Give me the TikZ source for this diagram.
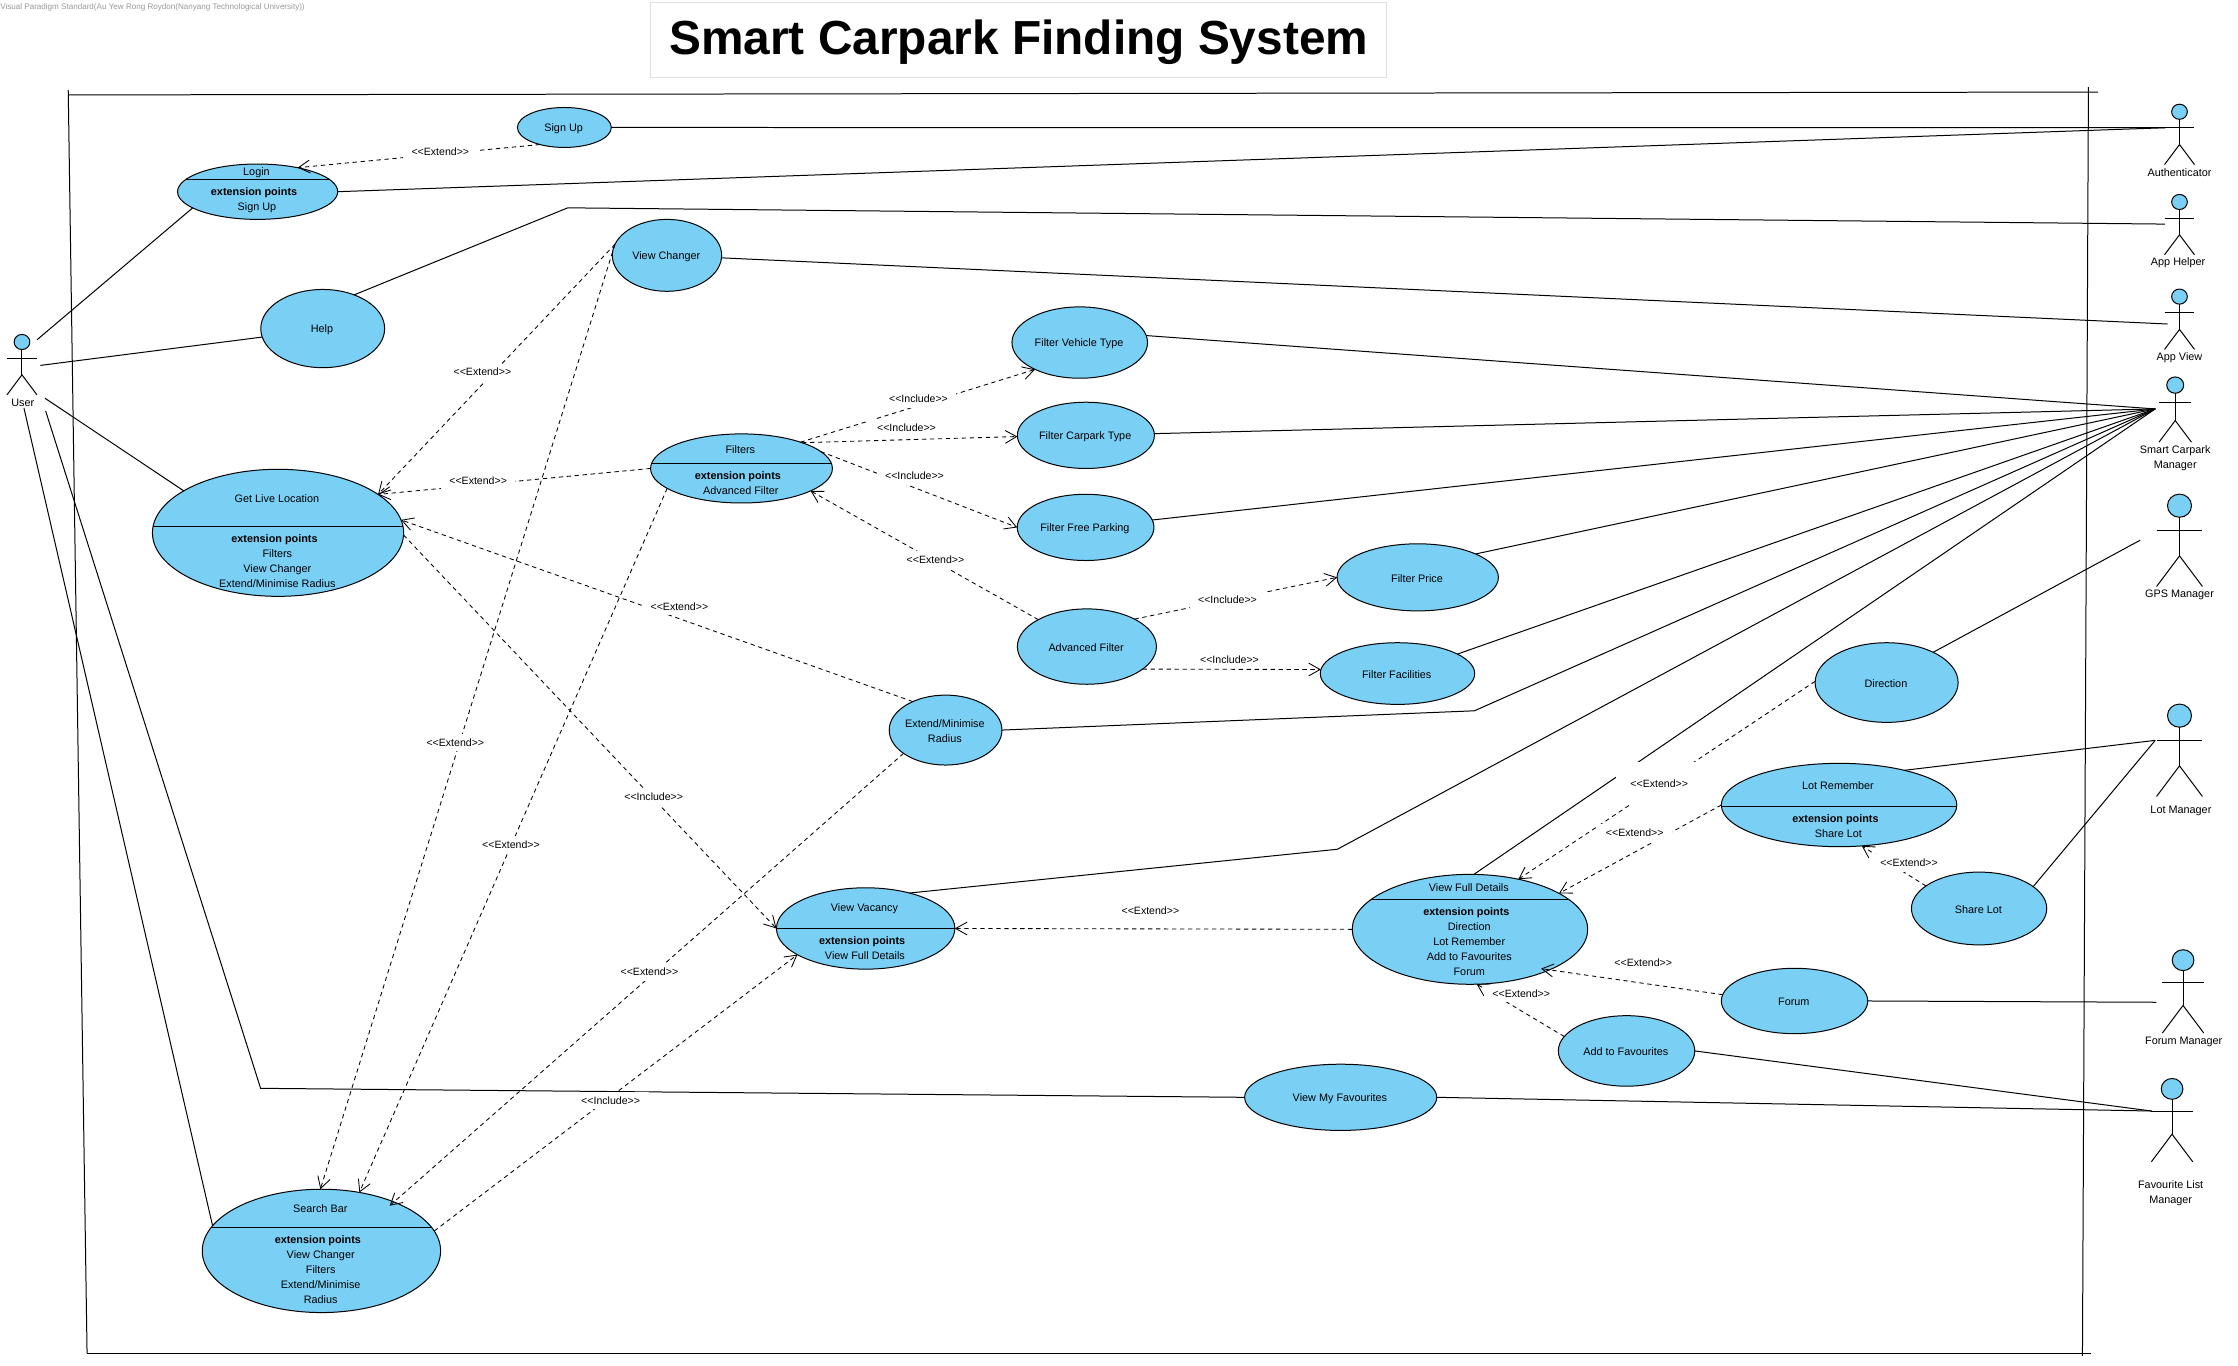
\documentclass[tikz,border=0pt]{standalone}
\usepackage{fontspec}
\setmainfont{Liberation Sans}
\usetikzlibrary{arrows.meta, shapes.geometric}

\tikzset{
    usecase/.style={draw, ellipse, fill=ucblue, line width=0.7pt, inner sep=0pt, outer sep=0pt},
    uctext/.style={inner sep=0pt, align=center, font=\fontsize{7.6}{10.45}\selectfont},
    actorhead/.style={draw, ellipse, fill=ucblue, line width=0.7pt, inner sep=0pt, outer sep=0pt,
        minimum width=11pt, minimum height=10.6pt, transform shape},
    actorlabel/.style={inner sep=0pt, align=center, font=\fontsize{7.6}{10.45}\selectfont},
    assoc/.style={line width=0.7pt},
    depend/.style={line width=0.6pt, dash pattern=on 3pt off 2.6pt, -{Straight Barb[length=8pt,width=9pt]}},
    deplabel/.style={fill=white, inner sep=0pt, inner xsep=6pt, minimum height=12pt, font=\fontsize{7.4}{9}\selectfont},
}
\definecolor{ucblue}{HTML}{7ACFF5}

% plain use case: name, x, y, rx, ry, text
\newcommand{\usecase}[6]{%
    \node[usecase, minimum width=2*#4pt, minimum height=2*#5pt] (#1) at (#2,#3) {};
    \node[uctext] (#1txt) at ({#2-0.5},{#3+0.7}) {#6};
}
% use case with compartment: name, x, y, rx, ry, line offset, title, extension lines
\newcommand{\extcase}[8]{%
    \node[usecase, minimum width=2*#4pt, minimum height=2*#5pt] (#1) at (#2,#3) {};
    \pgfmathsetmacro\chordw{#4*sqrt(1-((#6)/(#5))^2)}
    \draw[line width=0.7pt] ({#2-\chordw},{#3+#6}) -- ({#2+\chordw},{#3+#6});
    \node[uctext] (#1txt) at ({#2-0.8},{#3+(#6-#5)/2+0.5}) {#7};
    \node[uctext, anchor=north] (#1ext) at ({#2-0.5},{#3+#6+5.6}) {\textbf{extension points}\hspace*{4pt}\\#8};
}
% actor: name, x, head y, scale
\newcommand{\actor}[4]{%
    \begin{scope}[shift={(#2,#3)}, scale=#4]
        \node[actorhead] (#1) at (0,0) {};
        \draw[line width=0.7pt] (#1) -- (0,23);
        \draw[line width=0.7pt] (-10.5,11.3) -- (10.5,11.3);
        \draw[line width=0.7pt] (-10.5,37) -- (0,23) -- (10.5,37);
    \end{scope}
}
\newcommand{\extendtxt}{<{}<Extend>{}>}
\newcommand{\includetxt}{<{}<Include>{}>}

\begin{document}
\begin{tikzpicture}[x=1pt, y=-1pt]
    \useasboundingbox (0,0) rectangle (1568,956.4);

    \node[anchor=west, inner sep=0pt, text=black!40, font=\fontsize{5.66}{6}\selectfont] (stamp) at (0,5.3)
        {Visual Paradigm Standard(Au Yew Rong Roydon(Nanyang Technological University))};
    \node[draw=black!12, line width=0.7pt, minimum width=515.8pt, minimum height=52.3pt, inner sep=0pt,
        text height=27.7pt, text depth=7pt,
        font=\fontsize{33.5}{40}\selectfont\bfseries] (title) at (713.8,28) {Smart Carpark Finding System};

    % system boundary
    \draw[line width=0.7pt] (48.5,66.5) -- (1470,64.5);
    \draw[line width=0.7pt] (47.8,63) -- (61,948);
    \draw[line width=0.7pt] (61,948.2) -- (1465,948.2);
    \draw[line width=0.7pt] (1463.2,61) -- (1459,950);

    % actors
    \actor{user}{15.4}{239.6}{1}
    \actor{auth}{1527}{78.3}{1}
    \actor{helper}{1527}{141.5}{1}
    \actor{view}{1527}{207.8}{1}
    \actor{smart}{1524}{269.8}{1.08}
    \actor{gps}{1527}{354.3}{1.53}
    \actor{lot}{1527}{501.4}{1.53}
    \actor{forummgr}{1529.5}{672.7}{1.38}
    \actor{favmgr}{1521.8}{762.9}{1.38}

    \node[actorlabel] (userlbl) at (16,282) {User};
    \node[actorlabel] (authlbl) at (1527,121) {Authenticator};
    \node[actorlabel] (helperlbl) at (1526,184) {App Helper};
    \node[actorlabel] (viewlbl) at (1527,250.7) {App View};
    \node[actorlabel] (smartlbl) at (1524,321) {Smart Carpark\\Manager};
    \node[actorlabel] (gpslbl) at (1527,417) {GPS Manager};
    \node[actorlabel] (lotlbl) at (1528,568.3) {Lot Manager};
    \node[actorlabel] (forummgrlbl) at (1530,729.9) {Forum Manager};
    \node[actorlabel] (favmgrlbl) at (1520.8,836) {Favourite List\\Manager};

    \coordinate (userA) at (26,238);
    \coordinate (userB) at (28.3,256);
    \coordinate (userC) at (31.5,279);
    \coordinate (userD) at (16.8,286);
    \coordinate (userE) at (32,288);
    \coordinate (authEnd) at (1517,89.5);
    \coordinate (helperEnd) at (1517,157);
    \coordinate (viewEnd) at (1518.6,227);
    \coordinate (smartEnd) at (1510,286.5);
    \coordinate (gpsEnd) at (1499.4,378.5);
    \coordinate (lotEnd) at (1510,518.7);
    \coordinate (forumEnd) at (1510.8,702.2);
    \coordinate (favEnd) at (1507.5,778.4);
    \coordinate (bendHelp) at (397.8,145.6);
    \coordinate (bendRadius) at (1033,498);
    \coordinate (bendVacancy) at (937,595);
    \coordinate (bendFav) at (182.6,762.5);

    % use cases
    \usecase{signup}{395.4}{89.3}{32.9}{14}{Sign Up}
    \extcase{login}{180.5}{134.3}{56.1}{19.4}{-8.8}{Login}{Sign Up}
    \usecase{help}{226.1}{230.2}{43.4}{27.4}{Help}
    \usecase{changer}{467.3}{178.9}{38.3}{25.2}{View Changer}
    \extcase{location}{194.8}{373.3}{88}{44.5}{-4.6}{Get Live Location}{Filters\\View Changer\\Extend/Minimise Radius}
    \extcase{filters}{519.5}{328.2}{63.7}{24.2}{-3.6}{Filters}{Advanced Filter}
    \usecase{vehicle}{756.5}{240}{47.5}{25}{Filter Vehicle Type}
    \usecase{carpark}{760.8}{305}{48}{23.2}{Filter Carpark Type}
    \usecase{freepark}{760.6}{369.5}{47.9}{23.2}{Filter Free Parking}
    \usecase{price}{993.3}{404.5}{56.5}{23.5}{Filter Price}
    \usecase{advanced}{761.5}{453}{48.7}{26.4}{Advanced Filter}
    \usecase{facilities}{979.1}{471.9}{54.1}{21.6}{Filter Facilities}
    \usecase{radius}{662.5}{511.5}{39.5}{24.5}{Extend/Minimise\\Radius}
    \usecase{direction}{1321.8}{478.2}{50.1}{27.9}{Direction}
    \extcase{remember}{1288.5}{564}{82.5}{29.2}{0.7}{Lot Remember}{Share Lot}
    \usecase{sharelot}{1386.6}{636.5}{47.4}{25.5}{Share Lot}
    \extcase{vacancy}{606.5}{650.5}{62.5}{28.5}{0}{View Vacancy}{View Full Details}
    \extcase{details}{1029.9}{651.1}{82.5}{38.5}{-21.1}{View Full Details}{Direction\\Lot Remember\\Add to Favourites\\Forum}
    \usecase{forum}{1257.3}{701.3}{51.3}{22.9}{Forum}
    \usecase{addfav}{1139.6}{736.3}{47.8}{24.7}{Add to Favourites}
    \usecase{myfav}{939.3}{768.8}{67.3}{23.2}{View My Favourites}
    \extcase{search}{225.2}{876.4}{83.5}{43.2}{-16.6}{Search Bar}{View Changer\\Filters\\Extend/Minimise\\Radius}

    % associations
    \draw[assoc] (userA) -- (login.194);
    \draw[assoc] (userB) -- (help.188);
    \draw[assoc] (userC) -- (location.156);
    \draw[assoc] (userD) -- (search.167);
    \draw[assoc] (userE) -- (bendFav) -- (myfav.180);
    \draw[assoc] (signup) -- (authEnd);
    \draw[assoc] (login.0) -- (authEnd);
    \draw[assoc] (help.47) -- (bendHelp) -- (helperEnd);
    \draw[assoc] (changer) -- (viewEnd);
    \draw[assoc] (vehicle.6) -- (smartEnd);
    \draw[assoc] (carpark) -- (smartEnd);
    \draw[assoc] (freepark) -- (smartEnd);
    \draw[assoc] (price.22) -- (smartEnd);
    \draw[assoc] (facilities.18) -- (smartEnd);
    \draw[assoc] (radius.0) -- (bendRadius) -- (smartEnd);
    \draw[assoc] (vacancy.39) -- (bendVacancy) -- (smartEnd);
    \draw[assoc] (details.86) -- (smartEnd);
    \draw[assoc] (direction.33) -- (gpsEnd);
    \draw[assoc] (remember.28) -- (lotEnd);
    \draw[assoc] (sharelot.22) -- (lotEnd);
    \draw[assoc] (forum.0) -- (forumEnd);
    \draw[assoc] (addfav.0) -- (favEnd);
    \draw[assoc] (myfav.0) -- (favEnd);

    % extend and include
    \draw[depend] (signup.215) -- (login.31);
    \draw[depend] (changer.168) -- (location.21);
    \draw[depend] (changer.168) -- (search.91);
    \draw[depend] (filters.180) -- (location.21);
    \draw[depend] (filters.195) -- (search.57);
    \draw[depend] (radius.139) -- (location.6);
    \draw[depend, shorten >=-4pt] (radius.209) -- (search.34);
    \draw[depend] (location.359) -- (vacancy.180);
    \draw[depend] (search.10) -- (vacancy.201);
    \draw[depend] (details.180) -- (vacancy.0);
    \draw[depend] (filters.24) -- (vehicle.211);
    \draw[depend] (filters.23) -- (carpark.181);
    \draw[depend] (filters.12) -- (freepark.180);
    \draw[depend] (advanced.151) -- (filters.342);
    \draw[depend] (advanced.30) -- (price.180);
    \draw[depend] (advanced.338) -- (facilities.177);
    \draw[depend] (direction.179) -- (details.46);
    \draw[depend] (remember.180) -- (details.22);
    \draw[depend] (sharelot.157) -- (remember.299);
    \draw[depend, shorten >=-6pt] (forum.175) -- (details.333);
    \draw[depend] (addfav.167) -- (details.277);

    % labels, on top of the lines
    \node[deplabel] (lblSignup) at (308.5,106.5) {\extendtxt};
    \node[deplabel] (lblChanger) at (338,260.7) {\extendtxt};
    \node[deplabel] (lblChangerB) at (319,520.5) {\extendtxt};
    \node[deplabel] (lblFilters) at (335,337) {\extendtxt};
    \node[deplabel] (lblFiltersB) at (358,592) {\extendtxt};
    \node[deplabel] (lblRadius) at (476,425) {\extendtxt};
    \node[deplabel] (lblRadiusB) at (455,681) {\extendtxt};
    \node[deplabel] (lblLocation) at (458,558) {\includetxt};
    \node[deplabel] (lblSearch) at (427.8,771.3) {\includetxt};
    \node[deplabel] (lblDetails) at (806,638) {\extendtxt};
    \node[deplabel] (lblVehicle) at (643.5,279.5) {\includetxt};
    \node[deplabel] (lblCarpark) at (635.1,299.8) {\includetxt};
    \node[deplabel] (lblFree) at (640.7,333.5) {\includetxt};
    \node[deplabel] (lblAdvanced) at (655.4,392.3) {\extendtxt};
    \node[deplabel] (lblPrice) at (860,420.3) {\includetxt};
    \node[deplabel] (lblFacilities) at (861.4,462.3) {\includetxt};
    \node[deplabel, minimum width=60pt, minimum height=29.6pt, inner xsep=0pt] (lblDirection) at (1162.5,548.8) {\extendtxt};
    \node[deplabel] (lblRemember) at (1145.3,583.6) {\extendtxt};
    \node[deplabel] (lblShare) at (1337.5,604.6) {\extendtxt};
    \node[deplabel] (lblForum) at (1151.3,674.7) {\extendtxt};
    \node[deplabel] (lblAddfav) at (1065.8,695.9) {\extendtxt};
\end{tikzpicture}
\end{document}
